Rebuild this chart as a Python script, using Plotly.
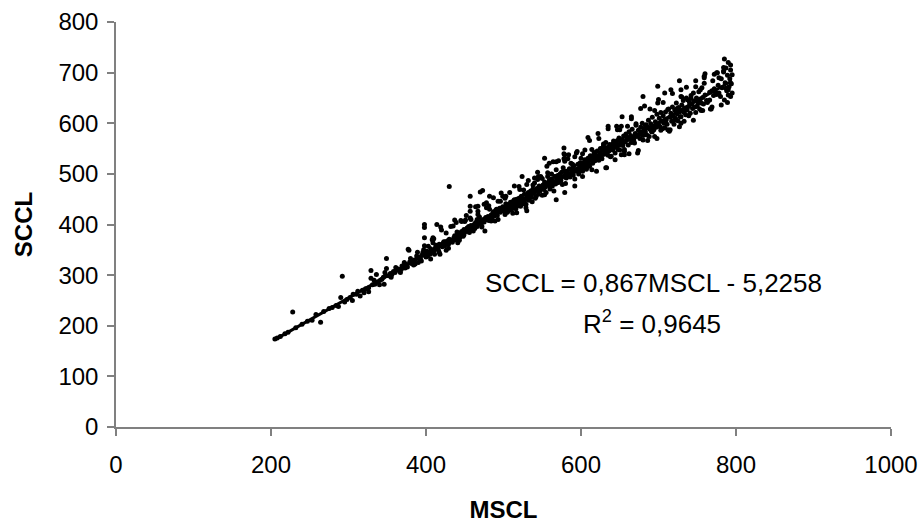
import plotly.graph_objects as go

band_200_300 = [
    (205, 174), (208, 176), (212, 179), (218, 184), (222, 187), (228, 227), (232, 196),
    (240, 203), (247, 209), (253, 211), (258, 222), (264, 207), (268, 228), (275, 234),
    (279, 236), (284, 240), (287, 238), (290, 256), (292, 298), (295, 247), (298, 252),
]
band_300_400 = [
    (302, 256), (306, 262), (310, 262), (315, 259), (318, 270), (322, 273), (326, 267),
    (326, 275), (329, 309), (329, 294), (331, 281), (334, 282), (336, 301), (338, 287),
    (341, 290), (343, 292), (345, 296), (346, 282), (348, 300), (349, 333), (349, 313),
    (352, 299), (354, 303), (356, 301), (358, 307), (360, 305), (362, 310), (364, 312),
    (366, 308), (368, 311), (369, 318), (371, 316), (373, 314), (375, 321), (377, 351),
    (378, 349), (379, 326), (381, 323), (383, 327), (385, 330), (386, 322), (388, 338),
    (390, 325), (390, 334), (392, 336), (393, 331), (395, 340), (396, 345), (398, 400),
    (398, 394), (398, 374), (398, 358), (399, 339), (400, 343), (400, 336),
    (305, 250), (312, 268), (320, 265), (333, 290), (340, 281), (347, 305), (355, 296),
    (361, 315), (367, 305), (372, 325), (376, 316), (380, 333), (384, 320), (389, 345),
    (394, 328), (397, 350),
]
band_400_500 = [
    (401, 347), (402, 338), (404, 344), (405, 341), (406, 352), (407, 346), (408, 370),
    (409, 364), (409, 374), (410, 348), (411, 341), (412, 353), (413, 357), (414, 400),
    (415, 352), (416, 349), (417, 361), (418, 341), (419, 395), (420, 360), (421, 356),
    (422, 363), (424, 358), (425, 366), (426, 349), (427, 362), (428, 368), (429, 361),
    (430, 475), (430, 371), (432, 366), (433, 369), (435, 397), (436, 374), (437, 378),
    (438, 370), (439, 404), (440, 376), (441, 364), (442, 380), (443, 383), (444, 375),
    (445, 408), (446, 386), (447, 380), (448, 377), (449, 390), (450, 406), (451, 409),
    (452, 386), (453, 393), (454, 389), (455, 396), (456, 384), (457, 456), (457, 436),
    (457, 426), (457, 413), (458, 398), (459, 391), (460, 395), (462, 400), (463, 392),
    (464, 404), (465, 399), (466, 410), (467, 436), (467, 426), (467, 420), (468, 402),
    (470, 464), (471, 407), (472, 397), (473, 467), (474, 410), (475, 405), (476, 387),
    (477, 414), (478, 443), (478, 433), (479, 411), (480, 416), (481, 408), (482, 456),
    (482, 430), (484, 419), (485, 413), (486, 421), (487, 425), (488, 417), (489, 407),
    (490, 422), (491, 430), (492, 418), (493, 446), (494, 426), (495, 432), (496, 424),
    (497, 462), (498, 429), (499, 435), (500, 427),
    (403, 357), (406, 332), (410, 372), (413, 359), (417, 345), (420, 389), (423, 366),
    (426, 383), (429, 353), (432, 396), (434, 365), (437, 409), (440, 385), (443, 369),
    (446, 406), (449, 380), (452, 418), (455, 391), (458, 410), (461, 387), (464, 435),
    (466, 396), (469, 415), (472, 395), (475, 440), (478, 410), (481, 437), (484, 407),
    (487, 453), (490, 428), (493, 410), (496, 446), (499, 456),
]
band_500_600 = [
    (501, 430), (502, 420), (503, 456), (503, 441), (504, 436), (505, 425), (506, 432),
    (507, 440), (508, 428), (509, 444), (510, 434), (511, 441), (512, 422), (513, 447),
    (514, 476), (514, 438), (515, 445), (516, 431), (517, 450), (518, 437), (519, 443),
    (520, 452), (521, 469), (521, 440), (522, 436), (523, 456), (524, 495), (524, 447),
    (525, 451), (526, 441), (527, 460), (528, 449), (529, 433), (530, 479), (530, 457),
    (530, 427), (531, 452), (532, 463), (533, 448), (534, 458), (535, 466), (536, 454),
    (537, 445), (538, 470), (539, 461), (540, 492), (540, 482), (541, 467), (542, 455),
    (543, 471), (544, 489), (545, 495), (545, 460), (546, 476), (547, 466), (548, 495),
    (549, 472), (550, 458), (551, 478), (552, 469), (553, 531), (553, 484), (554, 474),
    (555, 463), (556, 481), (557, 495), (557, 502), (558, 477), (559, 521), (559, 487),
    (560, 470), (561, 482), (562, 490), (563, 476), (564, 524), (565, 485), (566, 495),
    (567, 480), (568, 524), (568, 508), (568, 495), (568, 449), (569, 488), (570, 497),
    (571, 483), (572, 492), (573, 500), (574, 487), (575, 503), (576, 479), (577, 495),
    (578, 551), (578, 540), (578, 530), (578, 506), (579, 538), (579, 525), (579, 463),
    (580, 499), (581, 492), (582, 505), (583, 497), (584, 538), (585, 510), (586, 494),
    (587, 521), (588, 503), (589, 511), (590, 498), (591, 516), (592, 534), (592, 476),
    (593, 505), (594, 541), (595, 509), (596, 519), (597, 500), (598, 512), (599, 522),
    (600, 507),
    (502, 452), (505, 424), (508, 463), (511, 431), (514, 449), (517, 423), (520, 475),
    (523, 446), (526, 468), (529, 440), (532, 487), (535, 455), (538, 478), (541, 452),
    (544, 503), (547, 470), (550, 491), (553, 459), (556, 515), (559, 478), (562, 500),
    (565, 466), (568, 482), (571, 526), (574, 490), (577, 512), (580, 481), (583, 530),
    (586, 497), (589, 519), (592, 490), (595, 544), (598, 506), (600, 531),
]
band_600_700 = [
    (601, 516), (602, 540), (602, 505), (603, 522), (604, 512), (605, 528), (606, 518),
    (607, 509), (608, 525), (609, 572), (609, 531), (610, 519), (611, 515), (612, 536),
    (613, 527), (614, 548), (615, 521), (616, 533), (617, 540), (618, 526), (619, 537),
    (620, 529), (621, 545), (622, 580), (622, 533), (623, 527), (624, 541), (625, 550),
    (626, 536), (627, 530), (628, 546), (629, 555), (630, 539), (631, 548), (632, 562),
    (633, 512), (633, 543), (634, 552), (635, 594), (635, 537), (636, 545), (637, 558),
    (638, 549), (639, 535), (640, 556), (641, 547), (642, 565), (643, 552), (644, 541),
    (645, 560), (646, 594), (646, 553), (647, 566), (648, 548), (649, 571), (650, 587),
    (650, 557), (651, 562), (652, 538), (652, 594), (653, 568), (654, 556), (655, 575),
    (656, 548), (656, 538), (657, 563), (658, 579), (659, 567), (660, 594), (660, 572),
    (661, 557), (662, 583), (663, 569), (664, 576), (665, 613), (665, 562), (666, 588),
    (667, 573), (668, 565), (669, 561), (670, 580), (671, 596), (672, 574), (673, 541),
    (674, 586), (675, 578), (676, 570), (677, 592), (678, 582), (679, 600), (680, 653),
    (680, 576), (681, 589), (682, 634), (683, 583), (684, 597), (685, 577), (686, 592),
    (687, 606), (688, 574), (689, 588), (690, 599), (691, 583), (692, 612), (693, 594),
    (694, 587), (695, 574), (696, 603), (697, 592), (698, 618), (699, 673), (699, 640),
    (700, 598),
    (602, 495), (605, 547), (608, 514), (611, 566), (614, 508), (617, 542), (620, 505),
    (623, 570), (626, 535), (629, 559), (632, 512), (635, 589), (638, 534), (641, 559),
    (644, 528), (647, 587), (650, 547), (653, 613), (656, 544), (659, 569), (662, 540),
    (665, 609), (668, 568), (671, 599), (674, 546), (677, 629), (680, 567), (683, 596),
    (686, 566), (689, 628), (692, 583), (695, 625), (698, 570), (700, 647),
]
band_700_800 = [
    (701, 610), (702, 593), (703, 621), (704, 604), (705, 589), (706, 615), (707, 600),
    (708, 660), (708, 591), (709, 622), (710, 607), (711, 598), (712, 587), (713, 628),
    (714, 584), (715, 612), (716, 666), (716, 620), (717, 604), (718, 632), (719, 614),
    (720, 598), (721, 626), (722, 610), (723, 640), (724, 619), (725, 605), (726, 631),
    (727, 684), (727, 622), (728, 613), (729, 666), (729, 653), (729, 613), (729, 600),
    (730, 636), (731, 624), (732, 645), (733, 604), (734, 630), (735, 617), (736, 650),
    (737, 626), (738, 646), (739, 633), (740, 641), (741, 620), (742, 655), (743, 638),
    (744, 629), (745, 660), (746, 644), (747, 632), (748, 684), (748, 621), (749, 650),
    (750, 634), (751, 641), (752, 662), (753, 628), (754, 648), (755, 640), (755, 625),
    (756, 670), (757, 651), (758, 638), (759, 693), (759, 690), (759, 679), (760, 656),
    (762, 645), (764, 644), (766, 646), (767, 628), (768, 628), (769, 664), (770, 684),
    (771, 655), (772, 668), (774, 661), (775, 700), (776, 700), (777, 675), (778, 660),
    (780, 653), (781, 688), (782, 670), (784, 710), (784, 703), (785, 727), (785, 646),
    (786, 680), (787, 709), (788, 664), (789, 695), (789, 641), (790, 666), (790, 656),
    (791, 672), (792, 688), (793, 715), (793, 705), (794, 678), (795, 660),
    (703, 586), (706, 641), (709, 603), (712, 627), (715, 587), (718, 659), (721, 607),
    (724, 629), (727, 593), (730, 652), (733, 621), (736, 671), (739, 615), (742, 649),
    (745, 606), (748, 672), (751, 642), (754, 666), (757, 625), (760, 698), (763, 641),
    (766, 661), (769, 632), (772, 697), (775, 657), (778, 690), (781, 636), (784, 701),
    (787, 669), (790, 720), (793, 653), (795, 696),
]

# Trendline coefficients as printed on the chart
slope = 0.867
intercept = -5.2258
equation_text = "SCCL = 0,867MSCL - 5,2258"
r2_text = "R<sup>2</sup> = 0,9645"

x_ticks = [0, 200, 400, 600, 800, 1000]
y_ticks = [0, 100, 200, 300, 400, 500, 600, 700, 800]

points = band_200_300 + band_300_400 + band_400_500 + band_500_600 + band_600_700 + band_700_800
mscl = [p[0] for p in points]
sccl = [p[1] for p in points]

x_line = [min(mscl), max(mscl)]
y_line = [slope * v + intercept for v in x_line]

FONT = "Liberation Sans, Arial, sans-serif"
TXT = 24

fig = go.Figure()
fig.add_trace(go.Scatter(
    x=mscl, y=sccl, mode="markers",
    marker=dict(color="black", size=5, line=dict(width=0)),
    showlegend=False, hoverinfo="x+y",
))
fig.add_trace(go.Scatter(
    x=x_line, y=y_line, mode="lines",
    line=dict(color="black", width=3),
    showlegend=False, hoverinfo="skip",
))

fig.add_annotation(x=693, y=285, xref="x", yref="y", text=equation_text,
                   showarrow=False, font=dict(family=FONT, size=26, color="black"),
                   xanchor="center", yanchor="middle")
fig.add_annotation(x=691, y=207, xref="x", yref="y", text=r2_text,
                   showarrow=False, font=dict(family=FONT, size=26, color="black"),
                   xanchor="center", yanchor="middle")

axis_common = dict(
    showgrid=False, zeroline=False, showline=True, linecolor="#808080", linewidth=1.5,
    ticks="outside", ticklen=7, tickcolor="#808080", tickwidth=1.5,
    tickfont=dict(family=FONT, size=TXT, color="black"), automargin=False,
)
fig.update_xaxes(range=[0, 1000], tickvals=x_ticks, ticktext=[str(v) for v in x_ticks],
                 ticklabelstandoff=8,
                 title=dict(text="<b>MSCL</b>", font=dict(family=FONT, size=TXT, color="black"), standoff=25),
                 **axis_common)
fig.update_yaxes(range=[0, 800], tickvals=y_ticks, ticktext=[str(v) for v in y_ticks],
                 ticklabelstandoff=4,
                 title=dict(text="<b>SCCL</b>", font=dict(family=FONT, size=TXT, color="black"), standoff=19),
                 **axis_common)

fig.update_layout(
    width=923, height=524,
    margin=dict(l=116, r=32, t=22, b=97),
    plot_bgcolor="white", paper_bgcolor="white",
    font=dict(family=FONT, color="black"),
)

fig.write_html("out.html", config={"displayModeBar": False},
               post_script="document.body.style.margin='0';")
